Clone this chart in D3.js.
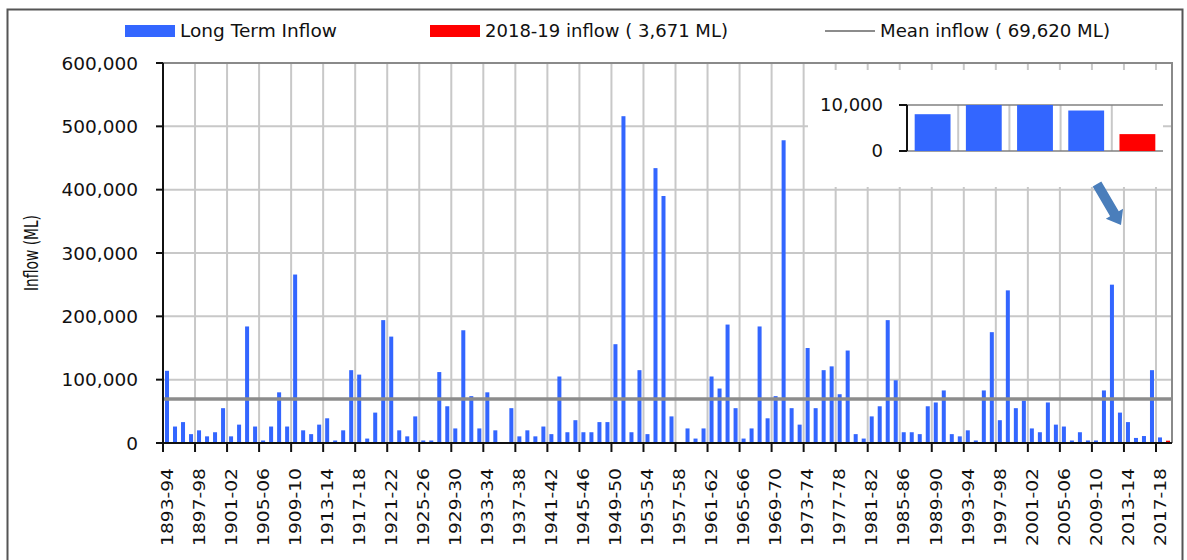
<!DOCTYPE html>
<html>
  <head>
    <meta charset="utf-8" />
    <title>Long Term Inflow</title>
    <script src="https://d3js.org/d3.v7.min.js"></script>
    <style>
      body { margin: 0; background: #fff; }
      text { font-family: "DejaVu Sans", Verdana, sans-serif; fill: #111; }
    </style>
  </head>
  <body>
    <div id="chart"></div>
    <script>
      // season labels 1893-94 .. 2018-19
      var firstYear = 1893;
      var lastYear = 2018;
      var seasons = [];
      for (var yr = firstYear; yr <= lastYear; yr++) {
        seasons.push(yr + "-" + String((yr + 1) % 100).padStart(2, "0"));
      }

      // annual inflow (ML)
      var inflow = [
        114000, 26000, 33000, 14000, 20000, 10500, 17000, 55000, 10500, 29000,
        184000, 26000, 4000, 26000, 80000, 26000, 266000, 20000, 14000, 29000,
        39000, 4000, 20000, 115000, 108000, 7000, 48000, 194000, 168000, 20000,
        10500, 42000, 4000, 4000, 112000, 58000, 23000, 178000, 74000, 23000,
        80000, 20000, 500, 55000, 10500, 20000, 10500, 26000, 14000, 105000,
        17000, 36000, 17000, 17000, 33000, 33000, 156000, 516000, 17000, 115000,
        14000, 434000, 390000, 42000, 500, 23000, 7000, 23000, 105000, 86000,
        187000, 55000, 7000, 23000, 184000, 39000, 74000, 478000, 55000, 29000,
        150000, 55000, 115000, 121000, 77000, 146000, 14000, 7000, 42000, 58000,
        194000, 99000, 17000, 17000, 14000, 58000, 64000, 83000, 14000, 10500,
        20000, 4000, 83000, 175000, 36000, 241000, 55000, 67000, 23000, 17000,
        64000, 29000, 26000, 4000, 17000, 4000, 4000, 83000, 250000, 48000,
        33000, 8000, 11000, 115000, 8800, 3671
      ];

      var currentSeason = "2018-19";
      var meanInflow = 69620;
      var yTicks = [0, 100000, 200000, 300000, 400000, 500000, 600000];
      var insetTicks = [0, 10000];
      var insetCount = 5;

      var legendItems = [
        { label: "Long Term Inflow", kind: "bar", color: "#3366ff" },
        { label: "2018-19 inflow ( 3,671 ML)", kind: "bar", color: "#ff0000" },
        { label: "Mean inflow ( 69,620 ML)", kind: "line", color: "#8c8c8c" }
      ];

      var width = 1187;
      var height = 560;
      var pLeft = 163, pRight = 1172, pTop = 63, pBottom = 443;

      var svg = d3.select("#chart").append("svg")
        .attr("width", width)
        .attr("height", height);

      // outer frame
      svg.append("rect")
        .attr("x", 7.5).attr("y", 9.5)
        .attr("width", 1175).attr("height", 570)
        .attr("fill", "none")
        .attr("stroke", "#555")
        .attr("stroke-width", 2);

      var x = d3.scaleBand()
        .domain(seasons)
        .range([pLeft, pRight])
        .paddingInner(0.5)
        .paddingOuter(0.25);

      var y = d3.scaleLinear().domain([0, 600000]).range([pBottom, pTop]);

      function boundary(s) {
        return x(s) + x.bandwidth() / 2 - x.step() / 2;
      }
      var tickSeasons = seasons.filter(function (d, i) { return i % 4 === 0; });

      // gridlines
      svg.append("g").selectAll("line")
        .data(yTicks.slice(1))
        .enter().append("line")
        .attr("x1", pLeft).attr("x2", pRight)
        .attr("y1", function (d) { return y(d); })
        .attr("y2", function (d) { return y(d); })
        .attr("stroke", "#c8c8c8").attr("stroke-width", 2);

      svg.append("g").selectAll("line")
        .data(tickSeasons.slice(1))
        .enter().append("line")
        .attr("x1", function (d) { return boundary(d); })
        .attr("x2", function (d) { return boundary(d); })
        .attr("y1", pTop).attr("y2", pBottom)
        .attr("stroke", "#c8c8c8").attr("stroke-width", 2);

      // plot border (top and right)
      svg.append("path")
        .attr("d", "M" + pLeft + "," + pTop + "H" + pRight + "V" + pBottom)
        .attr("fill", "none")
        .attr("stroke", "#8a8a8a").attr("stroke-width", 2);

      // bars
      svg.append("g").selectAll("rect")
        .data(seasons)
        .enter().append("rect")
        .attr("x", function (d) { return x(d); })
        .attr("width", x.bandwidth())
        .attr("y", function (d, i) { return y(inflow[i]); })
        .attr("height", function (d, i) { return pBottom - y(inflow[i]); })
        .attr("fill", function (d) { return d === currentSeason ? "#ff0000" : "#3366ff"; });

      // mean line
      svg.append("line")
        .attr("x1", pLeft).attr("x2", pRight)
        .attr("y1", y(meanInflow)).attr("y2", y(meanInflow))
        .attr("stroke", "#8c8c8c").attr("stroke-width", 3.5);

      // y axis
      var yAxis = svg.append("g");
      yAxis.append("line")
        .attr("x1", pLeft).attr("x2", pLeft)
        .attr("y1", pTop).attr("y2", pBottom)
        .attr("stroke", "#111").attr("stroke-width", 2);
      var yt = yAxis.selectAll("g.t").data(yTicks).enter().append("g").attr("class", "t");
      yt.append("line")
        .attr("x1", pLeft - 7).attr("x2", pLeft)
        .attr("y1", function (d) { return y(d); })
        .attr("y2", function (d) { return y(d); })
        .attr("stroke", "#111").attr("stroke-width", 2);
      yt.append("text")
        .attr("x", 138)
        .attr("y", function (d) { return y(d); })
        .attr("dy", "0.36em")
        .attr("text-anchor", "end")
        .style("font-size", "18.5px")
        .text(function (d) { return d3.format(",")(d); });

      svg.append("text")
        .attr("transform", "translate(31,253) rotate(-90)")
        .attr("text-anchor", "middle")
        .attr("dy", "0.36em")
        .attr("textLength", 76)
        .attr("lengthAdjust", "spacingAndGlyphs")
        .style("font-size", "19px")
        .text("Inflow (ML)");

      // x axis
      var xAxis = svg.append("g");
      xAxis.append("line")
        .attr("x1", pLeft).attr("x2", pRight)
        .attr("y1", pBottom).attr("y2", pBottom)
        .attr("stroke", "#111").attr("stroke-width", 2);
      xAxis.selectAll("line.tk")
        .data(tickSeasons)
        .enter().append("line")
        .attr("class", "tk")
        .attr("x1", function (d) { return boundary(d); })
        .attr("x2", function (d) { return boundary(d); })
        .attr("y1", pBottom).attr("y2", pBottom + 9)
        .attr("stroke", "#111").attr("stroke-width", 2);
      xAxis.selectAll("text")
        .data(tickSeasons)
        .enter().append("text")
        .attr("transform", function (d) {
          return "translate(" + (x(d) + x.bandwidth() / 2) + ",468) rotate(-90)";
        })
        .attr("dy", "0.36em")
        .attr("text-anchor", "end")
        .attr("textLength", 78)
        .attr("lengthAdjust", "spacingAndGlyphs")
        .style("font-size", "16px")
        .text(function (d) { return d; });

      // legend
      var legendX = [125, 430, 825];
      var legendLen = [157, 243, 230];
      var legend = svg.append("g").selectAll("g")
        .data(legendItems)
        .enter().append("g")
        .attr("transform", function (d, i) { return "translate(" + legendX[i] + ",31)"; });
      legend.each(function (d) {
        var g = d3.select(this);
        if (d.kind === "bar") {
          g.append("rect").attr("x", 0).attr("y", -6).attr("width", 50).attr("height", 12).attr("fill", d.color);
        } else {
          g.append("line").attr("x1", 0).attr("x2", 50).attr("y1", 0).attr("y2", 0)
            .attr("stroke", d.color).attr("stroke-width", 2);
        }
      });
      legend.append("text")
        .attr("x", 55)
        .attr("dy", "0.36em")
        .attr("textLength", function (d, i) { return legendLen[i]; })
        .attr("lengthAdjust", "spacingAndGlyphs")
        .style("font-size", "17px")
        .text(function (d) { return d.label; });

      // inset: last five seasons on a 0-10,000 scale
      var insetSeasons = seasons.slice(-insetCount);
      var insetValues = inflow.slice(-insetCount);
      svg.append("rect")
        .attr("x", 808).attr("y", 70)
        .attr("width", 355).attr("height", 117)
        .attr("fill", "#fff");

      var ix = d3.scaleBand().domain(insetSeasons).range([907, 1163]).paddingInner(0.3).paddingOuter(0.15);
      var iy = d3.scaleLinear().domain([0, 10000]).range([151, 105]).clamp(true);

      svg.append("g").selectAll("line")
        .data(insetSeasons.slice(1))
        .enter().append("line")
        .attr("x1", function (d) { return ix(d) - ix.step() * ix.paddingInner() / 2; })
        .attr("x2", function (d) { return ix(d) - ix.step() * ix.paddingInner() / 2; })
        .attr("y1", iy(10000)).attr("y2", iy(0))
        .attr("stroke", "#c8c8c8").attr("stroke-width", 2);

      svg.append("g").selectAll("line")
        .data(insetTicks)
        .enter().append("line")
        .attr("x1", 899).attr("x2", 1163)
        .attr("y1", function (d) { return iy(d); })
        .attr("y2", function (d) { return iy(d); })
        .attr("stroke", "#808080").attr("stroke-width", 1.5);

      svg.append("g").selectAll("rect")
        .data(insetSeasons)
        .enter().append("rect")
        .attr("x", function (d) { return ix(d); })
        .attr("width", ix.bandwidth())
        .attr("y", function (d, i) { return iy(insetValues[i]); })
        .attr("height", function (d, i) { return iy(0) - iy(insetValues[i]); })
        .attr("fill", function (d) { return d === currentSeason ? "#ff0000" : "#3366ff"; });

      svg.append("line")
        .attr("x1", 907).attr("x2", 907)
        .attr("y1", iy(10000)).attr("y2", iy(0))
        .attr("stroke", "#111").attr("stroke-width", 2);
      svg.append("g").selectAll("line")
        .data(insetTicks)
        .enter().append("line")
        .attr("x1", 899).attr("x2", 907)
        .attr("y1", function (d) { return iy(d); })
        .attr("y2", function (d) { return iy(d); })
        .attr("stroke", "#111").attr("stroke-width", 2);
      svg.append("g").selectAll("text")
        .data(insetTicks)
        .enter().append("text")
        .attr("x", 883)
        .attr("y", function (d) { return iy(d); })
        .attr("dy", "0.36em")
        .attr("text-anchor", "end")
        .style("font-size", "18px")
        .text(function (d) { return d3.format(",")(d); });

      // arrow pointing down to the latest seasons
      var ax0 = 1097, ay0 = 184, ax1 = 1121, ay1 = 225;
      var ang = Math.atan2(ay1 - ay0, ax1 - ax0);
      var len = Math.hypot(ax1 - ax0, ay1 - ay0);
      var sw = 5, hw = 10, hl = 13;
      var pts = [[0, -sw], [len - hl, -sw], [len - hl, -hw], [len, 0], [len - hl, hw], [len - hl, sw], [0, sw]];
      svg.append("path")
        .attr("d", d3.line()(pts))
        .attr("transform", "translate(" + ax0 + "," + ay0 + ") rotate(" + (ang * 180 / Math.PI) + ")")
        .attr("fill", "#4a7ebb");
    </script>
  </body>
</html>
